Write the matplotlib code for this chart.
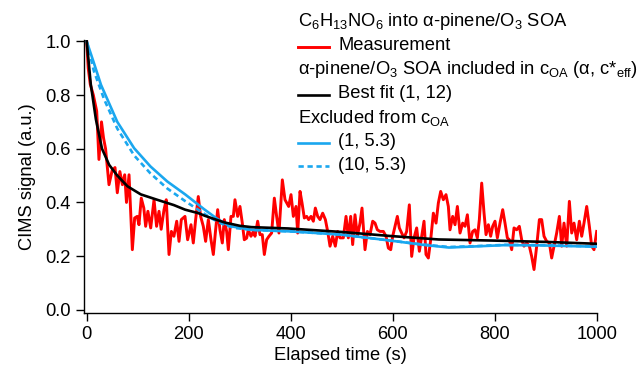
import matplotlib
matplotlib.use("Agg")
import matplotlib.pyplot as plt
from matplotlib.lines import Line2D

plt.rcParams['font.family'] = ['Liberation Sans', 'DejaVu Sans']
plt.rcParams['mathtext.fontset'] = 'custom'
plt.rcParams['mathtext.rm'] = 'Liberation Sans'
plt.rcParams['mathtext.it'] = 'Liberation Sans:italic'
plt.rcParams['mathtext.bf'] = 'Liberation Sans:bold'

# ---------------- data ----------------
t_meas = [0, 3, 7, 13, 19.6, 24, 29, 33, 37, 43.7, 50, 55.5, 60, 65, 70, 74.5, 78, 83, 89.5, 94,
          99, 102.5, 107, 112, 115.6, 120, 125.5, 132, 137, 141.8, 146, 151.6, 156, 161.4, 166,
          171, 176.5, 181, 185.5, 192.7, 197.9, 204.5, 209, 213.6, 218.8, 223.4, 228.6, 233.2,
          238.5, 243.7, 248.3, 252.8, 256.8, 261.3, 265.9, 269.8, 274.4, 277.7, 282.9, 287.5,
          290.7, 296, 300.5, 305.1, 309, 313.6, 316.9, 322.1, 326.7, 330, 335.2, 339.8, 344.3,
          348.3, 352.8, 357.4, 362.6, 367.9, 372.4, 377, 383.6, 388.8, 396, 400.6, 405.2, 410.4,
          413.7, 418.3, 422.2, 426.7, 431.3, 435.2, 439.8, 444.4, 448.3, 452.9, 457.5, 462.7,
          468, 472.5, 477.1, 482.3, 487.5, 492.1, 496.7, 503.2, 508.5, 513, 517.6, 521.5, 526.1,
          530.7, 535.9, 539.8, 545.7, 550.3, 555.5, 560.8, 565.3, 569.9, 575.1, 581.7, 586.9,
          591.5, 596.1, 600, 604.5, 609.1, 613, 617.6, 622.2, 627.4, 632.6, 637.2, 641.8, 647,
          652.3, 656.8, 661.4, 665.3, 669.9, 674.5, 679.7, 685, 689.5, 694.1, 699.3, 704.5,
          709.1, 712.4, 717.6, 722.2, 726.8, 732, 737.2, 741.8, 746.4, 751.6, 756.8, 761.4, 766,
          769.9, 774.5, 779.1, 783, 787.6, 792.1, 796, 800.6, 805.2, 810.4, 815.7, 820.2, 824.8,
          828.7, 833.3, 837.9, 843.1, 848.3, 852.9, 857.5, 862.7, 868, 872.5, 877.1, 882.3,
          887.6, 892.1, 896.7, 901.9, 907.2, 911.7, 916.3, 921.5, 926.8, 931.4, 935.9, 941.2,
          946.4, 951, 955.5, 960.8, 966, 970.6, 975.1, 980.4, 985.6, 990.2, 994.7, 1000]
y_meas = [1.0, 0.90, 0.84, 0.80, 0.74, 0.56, 0.70, 0.64, 0.60, 0.466, 0.52, 0.53, 0.436, 0.515,
          0.466, 0.503, 0.40, 0.503, 0.224, 0.342, 0.348, 0.317, 0.416, 0.379, 0.311, 0.367,
          0.305, 0.41, 0.311, 0.367, 0.30, 0.373, 0.41, 0.206, 0.292, 0.274, 0.33, 0.255, 0.336,
          0.348, 0.261, 0.317, 0.249, 0.336, 0.422, 0.348, 0.311, 0.255, 0.336, 0.261, 0.206,
          0.298, 0.373, 0.298, 0.249, 0.336, 0.292, 0.224, 0.348, 0.348, 0.410, 0.348, 0.385,
          0.323, 0.261, 0.267, 0.298, 0.274, 0.292, 0.274, 0.330, 0.280, 0.280, 0.206, 0.261,
          0.274, 0.286, 0.416, 0.348, 0.286, 0.484, 0.410, 0.385, 0.429, 0.348, 0.385, 0.286,
          0.441, 0.398, 0.342, 0.348, 0.336, 0.348, 0.330, 0.379, 0.348, 0.336, 0.360, 0.336,
          0.292, 0.237, 0.274, 0.237, 0.292, 0.268, 0.268, 0.348, 0.268, 0.348, 0.243, 0.354,
          0.274, 0.323, 0.379, 0.224, 0.292, 0.280, 0.330, 0.323, 0.298, 0.292, 0.292, 0.274,
          0.230, 0.224, 0.274, 0.311, 0.348, 0.305, 0.286, 0.268, 0.292, 0.391, 0.199, 0.268,
          0.305, 0.218, 0.274, 0.330, 0.206, 0.193, 0.261, 0.360, 0.323, 0.398, 0.441, 0.410,
          0.429, 0.385, 0.298, 0.348, 0.317, 0.385, 0.286, 0.323, 0.311, 0.354, 0.249, 0.292,
          0.298, 0.268, 0.336, 0.472, 0.360, 0.280, 0.317, 0.274, 0.311, 0.330, 0.268, 0.323,
          0.373, 0.323, 0.268, 0.261, 0.224, 0.305, 0.298, 0.311, 0.261, 0.237, 0.249, 0.237,
          0.199, 0.150, 0.237, 0.336, 0.336, 0.274, 0.255, 0.249, 0.193, 0.237, 0.286, 0.348,
          0.237, 0.323, 0.237, 0.404, 0.286, 0.323, 0.261, 0.330, 0.274, 0.323, 0.385, 0.311,
          0.237, 0.224, 0.292]

t_best = [0, 8, 18, 30, 44, 60, 80, 106, 138, 171, 193, 219, 232, 255, 271, 300, 323, 395,
          500, 595, 690, 795, 900, 1000]
y_best = [1.0, 0.84, 0.71, 0.60, 0.54, 0.50, 0.46, 0.43, 0.41, 0.39, 0.373, 0.36, 0.350,
          0.335, 0.325, 0.313, 0.308, 0.303, 0.290, 0.275, 0.262, 0.258, 0.253, 0.246]

t_ex1 = [0, 14, 28, 60, 93, 125, 158, 193, 230, 255, 280, 323, 400, 500, 595, 660, 710, 760,
         820, 890, 1000]
y_ex1 = [1.0, 0.92, 0.838, 0.70, 0.602, 0.534, 0.478, 0.43, 0.375, 0.340, 0.312, 0.298,
         0.292, 0.280, 0.258, 0.242, 0.232, 0.236, 0.241, 0.240, 0.235]

t_ex10 = [0, 14, 34, 60, 93, 125, 158, 193, 219, 245, 268, 290, 323, 400, 500, 595, 660,
          710, 760, 820, 890, 1000]
y_ex10 = [1.0, 0.89, 0.785, 0.675, 0.575, 0.508, 0.452, 0.405, 0.372, 0.340, 0.318, 0.305,
          0.298, 0.292, 0.280, 0.258, 0.243, 0.234, 0.237, 0.242, 0.241, 0.236]

x_ticks = [0, 200, 400, 600, 800, 1000]
y_ticks = [0.0, 0.2, 0.4, 0.6, 0.8, 1.0]

RED = '#ff0000'
BLUE = '#1aa7ef'
FS = 13.2
LW_RED = 2.1
LW_LINE = 1.9
DASH = (0, (2.0, 1.4))

# ---------------- figure ----------------
fig = plt.figure(figsize=(6.4, 3.74), dpi=100)
ax = fig.add_axes([84 / 640, 1 - 312.5 / 374, (596.7 - 84) / 640, (312.5 - 40) / 374])

ax.plot(t_meas, y_meas, color=RED, lw=LW_RED, solid_joinstyle='round', zorder=2)
ax.plot(t_ex10, y_ex10, color=BLUE, lw=LW_LINE, ls=DASH, zorder=3)
ax.plot(t_ex1, y_ex1, color=BLUE, lw=LW_LINE, zorder=4)
ax.plot(t_best, y_best, color='black', lw=LW_LINE, zorder=5)

ax.set_xlim(-5.3, 1000)
ax.set_ylim(-0.01, 1.005)
ax.set_xticks(x_ticks)
ax.set_yticks(y_ticks)
ax.set_xticklabels([str(v) for v in x_ticks])
ax.set_yticklabels([f"{v:.1f}" for v in y_ticks])
ax.tick_params(direction='out', length=5.5, width=1.0, labelsize=FS, pad=4, color='black')
for s in ['top', 'right']:
    ax.spines[s].set_visible(False)
for s in ['left', 'bottom']:
    ax.spines[s].set_linewidth(1.0)

ax.set_xlabel('Elapsed time (s)', fontsize=FS, labelpad=3)
ax.set_ylabel('CIMS signal (a.u.)', fontsize=FS, labelpad=7)

# ---------------- legend (manual) ----------------
def fx(px):
    return px / 640

def fy(py):
    return 1 - py / 374

x0 = 298
xl1, xl2 = 298, 329
xt = 338
fig.text(fx(x0), fy(21), r'C$_6$H$_{13}$NO$_6$ into α-pinene/O$_3$ SOA', fontsize=FS, va='center', ha='left')
fig.add_artist(Line2D([fx(xl1), fx(xl2)], [fy(46.5), fy(46.5)], color=RED, lw=LW_RED))
fig.text(fx(xt), fy(46), 'Measurement', fontsize=FS, va='center', ha='left')
fig.text(fx(x0), fy(70), r'α-pinene/O$_3$ SOA included in c$_{\mathrm{OA}}$ (α, c*$_{\mathrm{eff}}$)', fontsize=FS, va='center', ha='left')
fig.add_artist(Line2D([fx(xl1), fx(xl2)], [fy(95), fy(95)], color='black', lw=LW_LINE))
fig.text(fx(xt), fy(94), 'Best fit (1, 12)', fontsize=FS, va='center', ha='left')
fig.text(fx(x0), fy(118), r'Excluded from c$_{\mathrm{OA}}$', fontsize=FS, va='center', ha='left')
fig.add_artist(Line2D([fx(xl1), fx(xl2)], [fy(143), fy(143)], color=BLUE, lw=LW_LINE))
fig.text(fx(xt), fy(142), '(1, 5.3)', fontsize=FS, va='center', ha='left')
fig.add_artist(Line2D([fx(xl1), fx(xl2)], [fy(166), fy(166)], color=BLUE, lw=LW_LINE, ls=DASH))
fig.text(fx(xt), fy(165), '(10, 5.3)', fontsize=FS, va='center', ha='left')

fig.savefig('out.png', dpi=100)
